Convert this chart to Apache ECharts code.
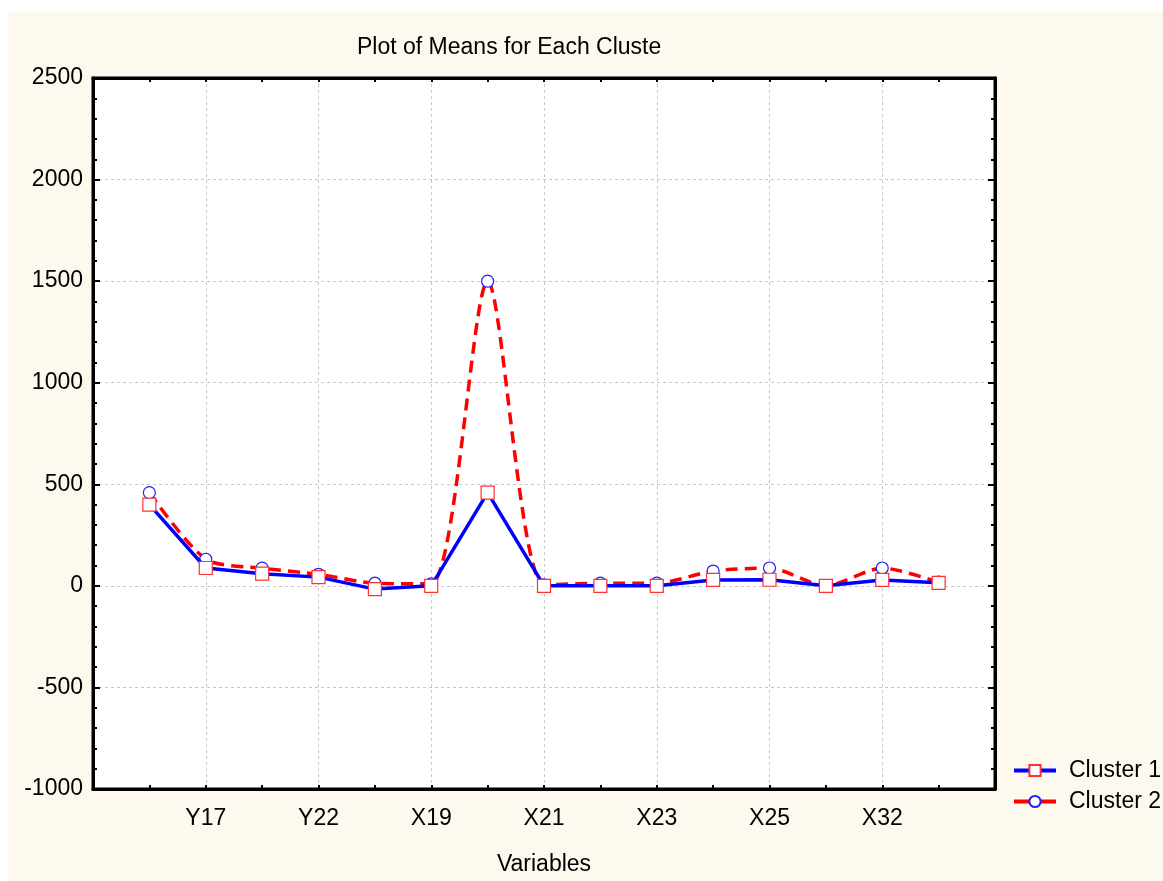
<!DOCTYPE html>
<html>
<head>
<meta charset="utf-8">
<script src="https://cdn.jsdelivr.net/npm/echarts@6/dist/echarts.min.js"></script>
<style>
html,body{margin:0;padding:0;background:#ffffff;}
#chart{width:1163px;height:881px;}
</style>
</head>
<body>
<div id="chart"></div>
<script>
// 15 plotted variables; only every other name is printed on the axis
var variables = ['', 'Y17', '', 'Y22', '', 'X19', '', 'X21', '', 'X23', '', 'X25', '', 'X32', ''];
var cluster1 = [400, 88, 60, 43, -16, 0, 459, 0, 0, 0, 29, 30, 0, 29, 15];
var cluster2 = [459, 131, 87, 57, 13, 10, 1500, 5, 13, 13, 73, 88, 0, 88, 18];
var yTicks = { min: -1000, max: 2500, interval: 500 };

// pad one empty slot at each end of the category axis
var categories = [' '].concat(variables).concat(['  ']);
function pad(arr) { return [null].concat(arr).concat([null]); }

var chart = echarts.init(document.getElementById('chart'));
var font = 'Liberation Sans, Arial, sans-serif';
var fs = 23;
var gridLine = { show: true, interval: 1, lineStyle: { color: '#c8c8c8', type: [3, 3], width: 1 } };

chart.setOption({
  backgroundColor: '#ffffff',
  animation: false,
  graphic: [{
    type: 'rect', left: 8, top: 12, z: -10,
    shape: { width: 1155, height: 869 },
    style: { fill: '#fdf9ee' }
  }],
  title: {
    text: 'Plot of Means for Each Cluste',
    left: 357, top: 36, padding: 0,
    textStyle: { fontFamily: font, fontSize: fs, fontWeight: 'normal', color: '#000' }
  },
  grid: {
    left: 93, right: 168, top: 78, bottom: 92,
    show: true, backgroundColor: '#ffffff', borderColor: '#000', borderWidth: 3
  },
  legend: {
    orient: 'vertical', left: 1007, top: 754, itemGap: 8,
    itemWidth: 42, itemHeight: 14,
    data: ['Cluster 1', 'Cluster 2'],
    lineStyle: { type: 'solid', width: 4 },
    textStyle: { fontFamily: font, fontSize: fs, color: '#000', padding: [0, 0, 0, 8] }
  },
  xAxis: [{
    type: 'category', data: categories, boundaryGap: false,
    name: 'Variables', nameLocation: 'middle', nameGap: 64,
    nameTextStyle: { fontFamily: font, fontSize: fs, color: '#000' },
    axisLine: { show: true, onZero: false, lineStyle: { color: '#000', width: 3 } },
    axisTick: { show: true, inside: true, interval: 0, length: 4, lineStyle: { color: '#000', width: 2 } },
    axisLabel: { interval: 1, margin: 18, fontFamily: font, fontSize: fs, color: '#000' },
    splitLine: gridLine
  }, {
    type: 'category', data: categories, boundaryGap: false, position: 'top',
    axisLine: { show: true, onZero: false, lineStyle: { color: '#000', width: 3 } },
    axisTick: { show: true, inside: true, interval: 0, length: 4, lineStyle: { color: '#000', width: 2 } },
    axisLabel: { show: false }, splitLine: { show: false }
  }],
  yAxis: [{
    type: 'value', min: yTicks.min, max: yTicks.max, interval: yTicks.interval,
    axisLine: { show: true, lineStyle: { color: '#000', width: 3 } },
    axisTick: { show: true, inside: true, length: 7, lineStyle: { color: '#000', width: 2 } },
    minorTick: { show: true, splitNumber: 5, length: 4, lineStyle: { color: '#000', width: 2 } },
    axisLabel: { margin: 10, fontFamily: font, fontSize: fs, color: '#000',
      formatter: function (v) { return String(v); } },
    splitLine: { show: true, lineStyle: { color: '#c8c8c8', type: [3, 3], width: 1 } }
  }, {
    type: 'value', min: yTicks.min, max: yTicks.max, interval: yTicks.interval, position: 'right',
    axisLine: { show: true, lineStyle: { color: '#000', width: 3 } },
    axisTick: { show: true, inside: true, length: 7, lineStyle: { color: '#000', width: 2 } },
    minorTick: { show: true, splitNumber: 5, length: 4, lineStyle: { color: '#000', width: 2 } },
    axisLabel: { show: false }, splitLine: { show: false }
  }],
  series: [{
    name: 'Cluster 1', type: 'line', z: 4,
    data: pad(cluster1),
    symbol: 'rect', symbolSize: 13, showAllSymbol: true,
    lineStyle: { color: '#0000ff', width: 3.5 },
    itemStyle: { color: '#ffffff', borderColor: '#ff3030', borderWidth: 1.2 }
  }, {
    name: 'Cluster 2', type: 'line', z: 3,
    data: pad(cluster2), smooth: 0.25,
    symbol: 'circle', symbolSize: 12, showAllSymbol: true,
    lineStyle: { color: '#ff0000', width: 3.5, type: [12, 7] },
    itemStyle: { color: '#ffffff', borderColor: '#2020ff', borderWidth: 1.2 }
  }]
});
</script>
</body>
</html>
